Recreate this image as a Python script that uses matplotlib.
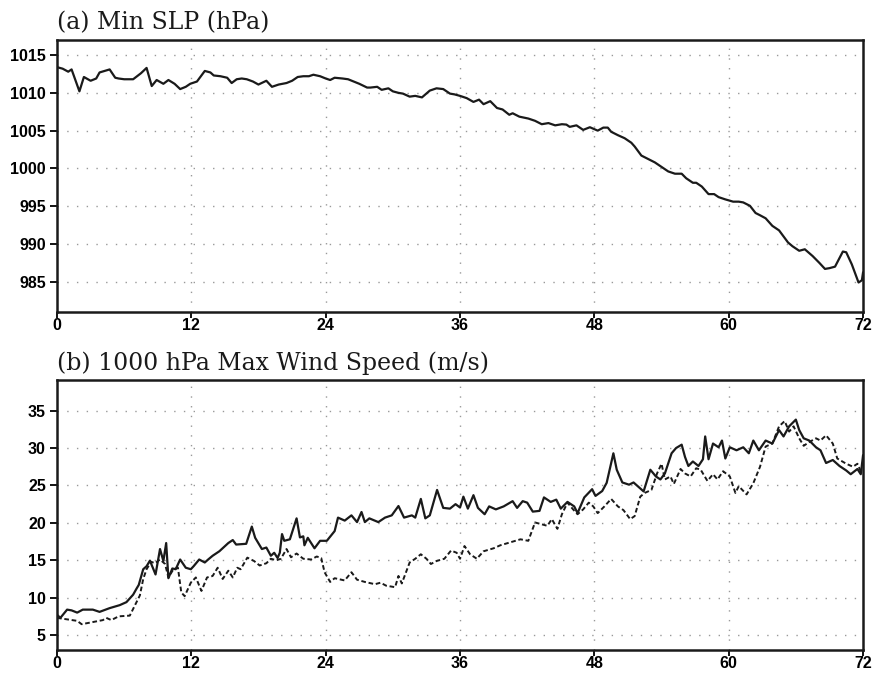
import matplotlib
matplotlib.use("Agg")
import matplotlib.pyplot as plt

# ---------------- data ----------------
slp_hours = [0.0, 0.5, 1.0, 1.3, 2.0, 2.4, 3.0, 3.5, 3.8, 4.7, 5.2, 5.5, 6.0, 6.5, 6.8,
             7.5, 8.0, 8.46, 8.9, 9.5, 9.95, 10.5, 11.0, 11.5, 11.9, 12.5, 12.8, 13.2,
             13.7, 14.0, 14.6, 15.2, 15.6, 16.05, 16.5, 16.95, 17.5, 17.99, 18.7, 19.2,
             19.8, 20.5, 21.0, 21.5, 22.0, 22.5, 22.9, 23.5, 24.0, 24.4, 24.8, 25.5,
             26.0, 26.5, 27.0, 27.7, 28.0, 28.6, 29.0, 29.6, 30.0, 30.5, 30.9, 31.5,
             32.0, 32.6, 33.3, 33.9, 34.5, 35.1, 35.5, 36.0, 36.6, 37.2, 37.7, 38.1,
             38.7, 39.3, 39.8, 40.4, 40.7, 41.3, 42.1, 42.7, 43.3, 43.9, 44.5, 45.1,
             45.5, 45.8, 46.4, 47.0, 47.6, 48.3, 48.8, 49.2, 49.5, 50.1, 50.7, 51.3,
             51.6, 52.2, 52.8, 53.4, 54.0, 54.6, 55.2, 55.8, 56.2, 56.8, 57.1, 57.6,
             58.2, 58.7, 59.1, 59.7, 60.4, 60.9, 61.3, 61.9, 62.4, 62.8, 63.3, 63.9,
             64.5, 64.9, 65.3, 65.7, 66.3, 66.8, 67.5, 68.1, 68.6, 69.0, 69.5, 70.2,
             70.5, 71.0, 71.6, 71.9, 72.0]
slp_values = [1013.4, 1013.2, 1012.8, 1013.1, 1010.2, 1012.1, 1011.6, 1011.9, 1012.7,
              1013.1, 1012.0, 1011.9, 1011.8, 1011.8, 1011.8, 1012.6, 1013.3, 1010.9,
              1011.7, 1011.2, 1011.7, 1011.2, 1010.5, 1010.8, 1011.2, 1011.5, 1012.1,
              1012.9, 1012.7, 1012.3, 1012.2, 1012.0, 1011.3, 1011.8, 1011.9, 1011.8,
              1011.5, 1011.1, 1011.6, 1010.8, 1011.1, 1011.3, 1011.6, 1012.1, 1012.2,
              1012.2, 1012.4, 1012.2, 1011.9, 1011.7, 1012.0, 1011.9, 1011.8, 1011.5,
              1011.2, 1010.7, 1010.7, 1010.8, 1010.4, 1010.6, 1010.2, 1010.0, 1009.9,
              1009.5, 1009.6, 1009.4, 1010.3, 1010.6, 1010.5, 1009.9, 1009.8, 1009.6,
              1009.3, 1008.8, 1009.1, 1008.5, 1008.9, 1008.0, 1007.8, 1007.1, 1007.3,
              1006.85, 1006.6, 1006.3, 1005.85, 1006.0, 1005.7, 1005.85, 1005.8, 1005.5,
              1005.7, 1005.1, 1005.45, 1005.0, 1005.4, 1005.4, 1004.85, 1004.4, 1004.0,
              1003.4, 1002.9, 1001.7, 1001.25, 1000.8, 1000.2, 999.6, 999.3, 999.3,
              998.7, 998.1, 998.1, 997.6, 996.6, 996.6, 996.2, 995.9, 995.6, 995.6,
              995.5, 995.05, 994.1, 993.8, 993.4, 992.4, 991.8, 991.0, 990.2, 989.7,
              989.1, 989.3, 988.4, 987.5, 986.7, 986.8, 987.0, 989.0, 988.9, 987.3,
              984.9, 985.2, 986.2]

wind_a_hours = [0.0, 0.3, 0.9, 1.3, 1.8, 2.3, 3.2, 3.8, 4.7, 5.6, 6.2, 6.8, 7.1, 7.3,
                7.7, 8.0, 8.3, 8.8, 9.2, 9.5, 9.75, 9.95, 10.3, 10.6, 11.0, 11.5, 11.95,
                12.2, 12.7, 13.2, 13.5, 13.9, 14.5, 15.3, 15.7, 16.0, 16.9, 17.4, 17.7,
                18.3, 18.7, 19.1, 19.4, 19.7, 19.9, 20.1, 20.3, 20.8, 21.4, 21.7, 22.0,
                22.1, 22.4, 23.0, 23.5, 24.1, 24.8, 25.1, 25.7, 26.3, 26.8, 27.2, 27.5,
                27.9, 28.7, 29.3, 29.9, 30.5, 31.0, 31.7, 32.0, 32.5, 32.9, 33.3, 33.95,
                34.5, 35.1, 35.6, 36.0, 36.3, 36.7, 37.2, 37.6, 38.2, 38.6, 39.2, 39.9,
                40.7, 41.1, 41.6, 42.0, 42.5, 43.1, 43.5, 44.1, 44.6, 45.0, 45.6, 46.2,
                46.5, 47.1, 47.8, 48.1, 48.7, 49.1, 49.7, 50.0, 50.5, 51.1, 51.5, 52.1,
                52.4, 53.0, 53.5, 53.9, 54.3, 54.9, 55.3, 55.8, 56.1, 56.4, 56.8, 57.3,
                57.7, 57.9, 58.2, 58.6, 59.1, 59.4, 59.7, 60.1, 60.7, 61.3, 61.8, 62.2,
                62.7, 63.3, 63.9, 64.5, 64.9, 65.4, 66.0, 66.3, 66.7, 67.2, 67.8, 68.2,
                68.7, 69.3, 69.9, 70.5, 70.9, 71.5, 71.8, 72.0]
wind_a_values = [7.7, 7.3, 8.4, 8.3, 8.0, 8.4, 8.4, 8.1, 8.6, 9.0, 9.4, 10.4, 11.2, 11.7,
                 13.8, 14.2, 14.95, 13.1, 16.5, 14.9, 17.3, 12.6, 13.9, 13.8, 15.1, 14.0,
                 13.8, 14.2, 15.1, 14.7, 15.1, 15.6, 16.2, 17.3, 17.7, 17.1, 17.2, 19.5,
                 18.0, 16.5, 16.7, 15.6, 16.0, 15.3, 16.0, 18.5, 17.6, 17.8, 20.6, 18.05,
                 18.2, 17.0, 18.0, 16.6, 17.6, 17.6, 18.9, 20.7, 20.3, 21.0, 20.1, 21.45,
                 20.1, 20.6, 20.1, 20.7, 21.0, 22.25, 20.7, 21.0, 20.7, 23.2, 20.6, 21.0,
                 24.4, 22.0, 21.9, 22.5, 22.05, 23.5, 21.9, 23.7, 22.0, 21.15, 22.2, 21.8,
                 22.2, 22.9, 22.0, 22.9, 22.7, 21.5, 21.6, 23.4, 22.8, 23.1, 21.9, 22.8,
                 22.2, 21.3, 23.4, 24.5, 23.6, 24.25, 25.35, 29.3, 27.1, 25.4, 25.1, 25.4,
                 24.6, 24.2, 27.1, 26.2, 25.8, 26.6, 29.3, 30.0, 30.45, 28.8, 27.6, 28.2,
                 27.6, 28.5, 31.55, 28.5, 30.6, 30.1, 31.0, 28.6, 30.1, 29.7, 30.1, 29.3,
                 31.0, 29.7, 31.0, 30.6, 32.4, 31.55, 32.9, 33.8, 32.4, 31.3, 31.0, 30.1,
                 29.7, 28.0, 28.4, 27.6, 27.0, 26.5, 27.2, 26.5, 29.0]

wind_b_hours = [0.0, 0.9, 1.8, 2.2, 3.25, 4.1, 4.4, 4.85, 5.5, 6.5, 6.8, 7.4, 7.7, 8.0,
                8.4, 8.75, 9.2, 9.65, 9.95, 10.4, 10.8, 11.1, 11.4, 11.95, 12.4, 12.9,
                13.4, 13.9, 14.35, 14.8, 15.3, 15.7, 16.1, 16.4, 17.0, 17.6, 18.1, 18.7,
                19.1, 19.6, 20.0, 20.5, 20.9, 21.4, 22.0, 22.7, 23.2, 23.6, 23.9, 24.4,
                24.8, 25.7, 26.3, 26.8, 27.5, 28.4, 28.9, 29.4, 30.2, 30.5, 30.8, 31.5,
                32.0, 32.5, 33.0, 33.4, 33.9, 34.6, 35.2, 35.7, 36.0, 36.4, 36.9, 37.5,
                38.1, 39.0, 39.6, 40.5, 41.4, 42.1, 42.7, 43.3, 43.8, 44.2, 44.7, 45.1,
                45.6, 46.1, 46.5, 47.0, 47.5, 47.9, 48.3, 48.9, 49.5, 50.1, 50.6, 51.2,
                51.6, 52.1, 52.5, 53.1, 53.6, 54.0, 54.3, 54.8, 55.1, 55.7, 56.1, 56.6,
                57.1, 57.5, 58.1, 58.6, 59.0, 59.5, 60.1, 60.6, 60.9, 61.6, 62.2, 62.8,
                63.3, 63.9, 64.5, 65.0, 65.4, 65.8, 66.3, 66.7, 67.2, 67.8, 68.2, 68.7,
                69.3, 69.7, 70.5, 71.1, 71.5, 71.8, 72.0]
wind_b_values = [7.3, 7.1, 6.9, 6.45, 6.75, 7.0, 7.3, 7.0, 7.5, 7.6, 8.5, 10.3, 12.5,
                 13.8, 14.8, 14.6, 15.1, 14.5, 12.7, 13.8, 14.0, 10.7, 10.2, 12.0, 12.7,
                 10.9, 12.7, 12.9, 14.0, 12.5, 13.6, 12.7, 14.0, 13.8, 15.35, 14.9, 14.3,
                 14.6, 15.2, 15.0, 15.2, 16.5, 15.4, 15.9, 15.2, 15.1, 15.5, 15.3, 13.4,
                 12.1, 12.6, 12.3, 13.4, 12.4, 12.1, 11.8, 12.0, 11.6, 11.4, 12.9, 11.9,
                 14.7, 15.2, 15.8, 15.2, 14.5, 14.9, 15.2, 16.3, 16.0, 15.2, 16.9, 15.8,
                 15.2, 16.2, 16.6, 17.0, 17.4, 17.8, 17.6, 20.05, 19.8, 19.6, 20.5, 19.2,
                 21.15, 22.7, 21.8, 21.15, 21.8, 22.7, 22.2, 21.3, 22.2, 23.2, 22.2, 21.7,
                 20.5, 20.9, 23.5, 24.0, 24.4, 26.6, 27.9, 25.8, 26.2, 25.2, 27.2, 26.6,
                 26.2, 27.3, 27.1, 25.6, 26.5, 25.8, 26.9, 26.2, 24.0, 24.9, 23.8, 25.3,
                 27.5, 30.2, 30.6, 32.9, 33.6, 32.2, 32.9, 31.3, 30.3, 30.8, 31.3, 31.0,
                 31.7, 30.6, 28.6, 27.9, 27.5, 27.9, 26.9, 27.1]

x_ticks = [0, 12, 24, 36, 48, 60, 72]
slp_ticks = [985, 990, 995, 1000, 1005, 1010, 1015]
wind_ticks = [5, 10, 15, 20, 25, 30, 35]
title_a = "(a) Min SLP (hPa)"
title_b = "(b) 1000 hPa Max Wind Speed (m/s)"

# ---------------- figure ----------------
fig = plt.figure(figsize=(8.72, 6.75), dpi=100)
ax1 = fig.add_axes([0.0654, 0.5378, 0.9243, 0.4030])
ax2 = fig.add_axes([0.0654, 0.0370, 0.9243, 0.4001])

line_col = "#1a1a1a"
grid_kw = dict(color="#999999", linestyle=(0, (1.0, 6.0)), linewidth=1.0)
tick_font = dict(family="Liberation Sans", weight="bold", size=11.5)
title_font = dict(family="DejaVu Serif", size=17)

ax1.plot(slp_hours, slp_values, color=line_col, lw=1.6, solid_joinstyle="round")
ax2.plot(wind_a_hours, wind_a_values, color=line_col, lw=1.6, solid_joinstyle="round")
ax2.plot(wind_b_hours, wind_b_values, color=line_col, lw=1.4, linestyle=(0, (2.4, 1.4)))

for ax, yt, ylim, title in [(ax1, slp_ticks, (981, 1017), title_a),
                            (ax2, wind_ticks, (3, 39.1), title_b)]:
    ax.set_xlim(0, 72)
    ax.set_ylim(*ylim)
    ax.set_xticks(x_ticks)
    ax.set_yticks(yt)
    ax.set_xticklabels([str(v) for v in x_ticks], **tick_font)
    ax.set_yticklabels([str(v) for v in yt], **tick_font)
    ax.tick_params(axis="y", direction="out", length=5, width=1.3, pad=3, colors="black")
    ax.tick_params(axis="x", direction="out", length=4, width=1.3, pad=0.5, colors="black")
    for v in x_ticks[1:-1]:
        ax.axvline(v, **grid_kw, zorder=0)
    for v in yt:
        ax.axhline(v, **grid_kw, zorder=0)
    for s in ax.spines.values():
        s.set_linewidth(1.8)
        s.set_color("#1a1a1a")
    ax.text(0.0, 1.02, title, transform=ax.transAxes, ha="left", va="bottom",
            color="#1a1a1a", **title_font)

fig.savefig("out.png", dpi=100)
